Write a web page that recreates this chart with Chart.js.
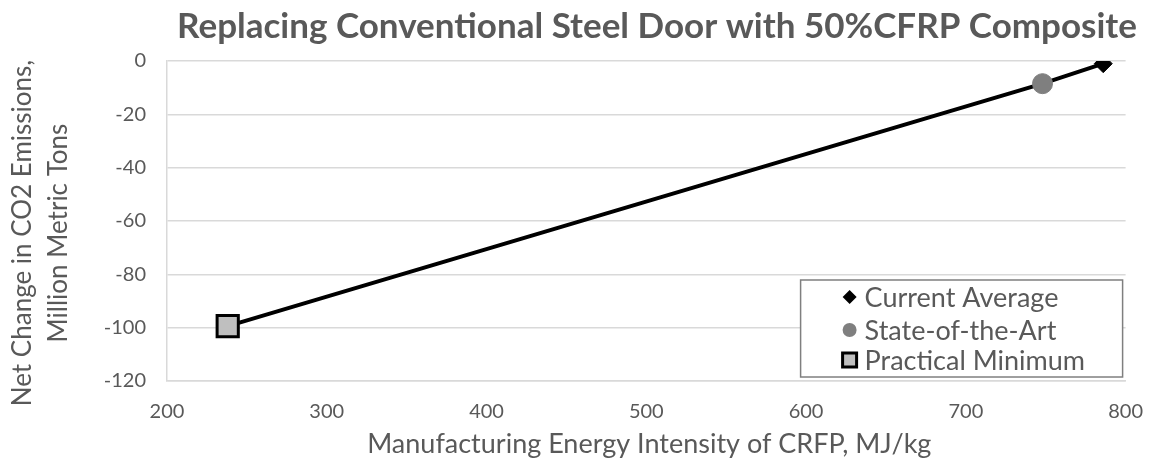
<!DOCTYPE html>
<html>
<head>
<meta charset="utf-8">
<script src="https://cdn.jsdelivr.net/npm/chart.js@4/dist/chart.umd.min.js"></script>
<style>
  html, body { margin: 0; padding: 0; background: #ffffff; }
  #wrap { width: 1162px; height: 459px; position: relative; }
</style>
</head>
<body>
<div id="wrap"><canvas id="c" width="1162" height="459"></canvas></div>
<script>
// Scenario names, CFRP manufacturing energy intensity (MJ/kg) and net CO2 change (Mt)
const scenarios = ['Current Average', 'State-of-the-Art', 'Practical Minimum'];
const energyIntensity = [786, 748, 238];
const netChange = [-1, -8.5, -99.4];

// Axis tick values
const xTicks = [200, 300, 400, 500, 600, 700, 800];
const yTicks = [0, -20, -40, -60, -80, -100, -120];

// Text
const chartTitle = 'Replacing Conventional Steel Door with 50%CFRP Composite';
const xTitle = 'Manufacturing Energy Intensity of CRFP, MJ/kg';
const yTitle = ['Net Change in CO2 Emissions,', 'Million Metric Tons'];

const TEXT = '#595959';
const FONT = 'Lato, "Open Sans", sans-serif';

// Marker styles per scenario
const markerStyle = [
  { pointStyle: 'rectRot', radius: 9, fill: '#000000', border: '#000000', borderWidth: 1 },
  { pointStyle: 'circle', radius: 10, fill: '#7f7f7f', border: '#7f7f7f', borderWidth: 1 },
  { pointStyle: 'rect', radius: 15, fill: '#bfbfbf', border: '#000000', borderWidth: 3 }
];

// Trend line through the scenarios, ordered by energy intensity
const linePts = scenarios.map((s, i) => ({ x: energyIntensity[i], y: netChange[i] }))
  .sort((a, b) => a.x - b.x);

const pointSets = scenarios.map((name, i) => ({
  type: 'scatter',
  label: name,
  data: [{ x: energyIntensity[i], y: netChange[i] }],
  pointStyle: markerStyle[i].pointStyle,
  pointRadius: markerStyle[i].radius,
  pointHoverRadius: markerStyle[i].radius,
  backgroundColor: markerStyle[i].fill,
  borderColor: markerStyle[i].border,
  pointBorderWidth: markerStyle[i].borderWidth,
  order: 3 - i
}));

// Chart title and axis titles, placed around the plot area
const titles = {
  id: 'titles',
  afterDraw(chart) {
    const ctx = chart.ctx;
    const a = chart.chartArea;
    ctx.save();
    ctx.fillStyle = TEXT;
    ctx.textAlign = 'center';
    ctx.textBaseline = 'alphabetic';

    ctx.font = 'bold 35px ' + FONT;
    ctx.fillText(chartTitle, 657, 38);

    ctx.font = '27px ' + FONT;
    ctx.fillText(xTitle, (a.left + a.right) / 2 + 3, 453);

    ctx.font = '26px ' + FONT;
    const cy = 233;
    [31, 67].forEach((bx, i) => {
      ctx.save();
      ctx.translate(bx, cy);
      ctx.rotate(-Math.PI / 2);
      ctx.fillText(yTitle[i], 0, 0);
      ctx.restore();
    });
    ctx.restore();
  }
};

// Boxed legend drawn inside the lower-right of the plot area
const boxLegend = {
  id: 'boxLegend',
  afterDatasetsDraw(chart) {
    const ctx = chart.ctx;
    const a = chart.chartArea;
    const w = 322, h = 97;
    const x0 = a.right - 325, y0 = a.bottom - 101;
    ctx.save();
    ctx.fillStyle = '#ffffff';
    ctx.fillRect(x0, y0, w, h);
    ctx.strokeStyle = '#7f7f7f';
    ctx.lineWidth = 1.5;
    ctx.strokeRect(x0, y0, w, h);
    ctx.font = '27px ' + FONT;
    ctx.textBaseline = 'middle';
    ctx.textAlign = 'left';
    const rowY = [y0 + 17, y0 + 50, y0 + 80];
    scenarios.forEach((name, i) => {
      const cx = x0 + 49, cy = rowY[i];
      ctx.beginPath();
      if (i === 0) {
        const r = 7;
        ctx.moveTo(cx - r, cy); ctx.lineTo(cx, cy - r); ctx.lineTo(cx + r, cy); ctx.lineTo(cx, cy + r);
        ctx.closePath();
        ctx.fillStyle = '#000000'; ctx.fill();
      } else if (i === 1) {
        ctx.arc(cx, cy, 7, 0, Math.PI * 2);
        ctx.fillStyle = '#7f7f7f'; ctx.fill();
      } else {
        ctx.rect(cx - 7, cy - 7, 14, 14);
        ctx.fillStyle = '#bfbfbf'; ctx.fill();
        ctx.lineWidth = 3; ctx.strokeStyle = '#000000'; ctx.stroke();
      }
      ctx.fillStyle = TEXT;
      ctx.fillText(name, x0 + 64, cy + 1);
    });
    ctx.restore();
  }
};

new Chart(document.getElementById('c'), {
  type: 'scatter',
  data: {
    datasets: [
      {
        type: 'line',
        label: 'trend',
        data: linePts,
        borderColor: '#000000',
        borderWidth: 4,
        pointRadius: 0,
        fill: false,
        tension: 0,
        order: 10
      },
      ...pointSets
    ]
  },
  options: {
    responsive: false,
    animation: false,
    devicePixelRatio: 1,
    layout: { padding: { left: 0, right: 34, top: 61, bottom: 0 } },
    plugins: {
      legend: { display: false },
      tooltip: { enabled: false },
      title: { display: false }
    },
    scales: {
      x: {
        type: 'linear',
        min: 200, max: 800,
        afterBuildTicks(s) { s.ticks = xTicks.map(v => ({ value: v })); },
        afterFit(s) { s.height = 78; },
        ticks: { color: TEXT, font: { family: FONT, size: 20 }, padding: 19 },
        grid: { display: false, drawTicks: false },
        border: { display: true, color: '#d9d9d9', width: 1.5 },
        title: { display: false }
      },
      y: {
        type: 'linear',
        min: -120, max: 0,
        afterBuildTicks(s) { s.ticks = yTicks.map(v => ({ value: v })); },
        afterFit(s) { s.width = 167; },
        ticks: { color: TEXT, font: { family: FONT, size: 20 }, padding: 21 },
        grid: { color: '#d9d9d9', lineWidth: 1.5, drawTicks: false },
        border: { display: true, color: '#d9d9d9', width: 1.5 },
        title: { display: false }
      }
    }
  },
  plugins: [boxLegend, titles]
});
</script>
</body>
</html>
